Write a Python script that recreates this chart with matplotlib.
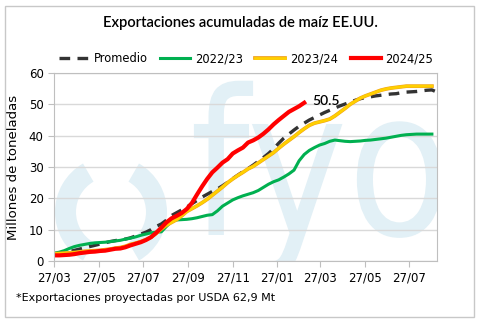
import datetime as dt
import matplotlib
matplotlib.use("Agg")
import matplotlib.pyplot as plt
import matplotlib.dates as mdates
import matplotlib.patheffects as pe
from matplotlib.patches import PathPatch, Wedge, Rectangle
from matplotlib.textpath import TextPath
from matplotlib.font_manager import FontProperties
from matplotlib.transforms import Affine2D

# exportaciones acumuladas semanales (millones de toneladas), desde el 27/03
promedio = [2.0, 2.3, 2.6, 3.0, 3.4, 3.8, 4.2, 4.6, 5.0, 5.4, 5.8, 6.2, 6.5, 6.8, 7.0,
            7.4, 8.0, 8.6, 9.2, 10.0, 11.0, 11.8, 13.0, 14.5, 15.4, 16.3, 17.2, 18.3,
            19.3, 20.4, 21.3, 22.2, 23.0, 24.0, 25.1, 26.3, 27.4, 28.5, 29.5, 30.6,
            31.8, 33.0, 34.3, 35.8, 37.6, 39.2, 40.5, 41.8, 43.0, 44.0, 45.0, 45.8,
            46.6, 47.4, 48.1, 48.8, 49.5, 50.1, 50.7, 51.3, 51.8, 52.2, 52.4, 52.7,
            52.9, 53.1, 53.3, 53.4, 53.7, 53.9, 54.0, 54.1, 54.3, 54.5, 54.6, 53.9]
c2022 = [2.5, 2.8, 3.3, 4.0, 4.6, 5.0, 5.3, 5.6, 5.8, 5.9, 6.0, 6.2, 6.4, 6.6, 7.0,
         7.3, 7.7, 8.2, 8.6, 9.0, 9.2, 9.3, 11.0, 12.6, 13.1, 13.2, 13.3, 13.5, 13.8,
         14.2, 14.6, 14.8, 16.0, 17.5, 18.5, 19.5, 20.2, 20.8, 21.3, 21.8, 22.5, 23.5,
         24.5, 25.3, 25.9, 26.8, 27.8, 29.0, 32.0, 34.0, 35.3, 36.2, 37.0, 37.5, 38.2,
         38.6, 38.4, 38.2, 38.1, 38.2, 38.3, 38.5, 38.6, 38.8, 39.0, 39.2, 39.5, 39.8,
         40.1, 40.3, 40.4, 40.5, 40.5, 40.5, 40.5]
c2023 = [2.3, 2.4, 2.5, 2.6, 2.7, 2.9, 3.1, 3.2, 3.3, 3.4, 3.6, 3.8, 4.1, 4.3, 4.7,
         5.3, 5.7, 6.2, 6.8, 7.6, 8.8, 10.2, 11.4, 12.3, 13.2, 14.4, 15.8, 16.7, 17.6,
         18.6, 19.7, 21.0, 22.3, 23.6, 25.0, 26.2, 27.3, 28.3, 29.4, 30.2, 31.3, 32.4,
         33.5, 34.6, 36.0, 37.3, 38.5, 39.7, 41.0, 42.2, 43.3, 44.0, 44.4, 44.8, 45.3,
         46.3, 47.5, 48.7, 50.0, 51.0, 52.0, 52.7, 53.3, 53.9, 54.5, 54.9, 55.2, 55.4,
         55.6, 55.8, 55.8, 55.8, 55.8, 55.8, 55.8]
c2024 = [1.8, 1.8, 1.9, 2.0, 2.2, 2.5, 2.7, 2.9, 3.0, 3.2, 3.3, 3.6, 3.9, 4.0, 4.4,
         5.0, 5.5, 6.0, 6.7, 7.6, 9.0, 10.6, 12.3, 13.6, 14.4, 15.3, 16.6, 18.5, 21.2,
         23.8, 26.2, 28.3, 29.8, 31.4, 32.5, 34.3, 35.3, 36.2, 37.8, 38.5, 39.4, 40.6,
         42.0, 43.6, 45.0, 46.3, 47.6, 48.5, 49.4, 50.5]

inicio = dt.datetime(2022, 3, 27)
def fechas(serie):
    return [inicio + dt.timedelta(days=7 * i) for i in range(len(serie))]

fig = plt.figure(figsize=(4.81, 3.23), dpi=100)
px = Affine2D().scale(1 / 100) + fig.dpi_scale_trans  # coordenadas en pixeles
fig.patches.append(Rectangle((5, 6), 469, 311, transform=px, fill=False,
                             ec="#c8c8c8", lw=1))
ax = fig.add_axes([54 / 481, 62 / 323, 383 / 481, 188 / 323])

# marca de agua dentro del area del grafico
agua = "#e2f0f6"
tp = TextPath((0, 0), "fyo", size=1, prop=FontProperties(family="DejaVu Sans"))
logo = PathPatch(tp, fc=agua, ec="none", zorder=0.1,
                 transform=Affine2D().scale(170, 203).translate(190, 88) + px)
ax.add_artist(logo)
for t1, t2 in [(120, 240), (-60, 60)]:
    ax.add_artist(Wedge((111, 111), 56, t1, t2, width=21, fc=agua, ec="none",
                        transform=px, zorder=0.1))

ax.plot(fechas(promedio), promedio, color="#333333", lw=2.4, ls=(0, (3.2, 2.2)),
        label="Promedio")
ax.plot(fechas(c2022), c2022, color="#00b050", lw=2.2, label="2022/23")
ax.plot(fechas(c2023), c2023, color="#ffd000", lw=2.0, label="2023/24",
        path_effects=[pe.Stroke(linewidth=2.7, foreground="#f0a020"), pe.Normal()])
ax.plot(fechas(c2024), c2024, color="#ff0000", lw=3.0, label="2024/25")

ax.annotate(f"{c2024[-1]:.1f}", (fechas(c2024)[-1], c2024[-1]),
            xytext=(6, 1), textcoords="offset points", va="center", ha="left",
            fontsize=10, family="Lato", weight="semibold")

ax.set_xlim(inicio, inicio + dt.timedelta(days=525))
ax.set_ylim(0, 60)
ax.set_yticks(range(0, 61, 10))
ax.xaxis.set_major_locator(mdates.MonthLocator(bymonth=[1, 3, 5, 7, 9, 11], bymonthday=27))
ax.xaxis.set_major_formatter(mdates.DateFormatter("%d/%m"))
ax.grid(axis="y", color="#d9d9d9", lw=1, zorder=0.5)
ax.set_axisbelow(True)
for s in ax.spines.values():
    s.set_color("#bfbfbf")
ax.tick_params(colors="#bfbfbf", labelcolor="black", labelsize=8.5, length=4)
ax.set_ylabel("Millones de toneladas", fontsize=9.5, labelpad=6)

fig.text(240 / 481, 1 - 23 / 323, "Exportaciones acumuladas de maíz EE.UU.", ha="center",
         va="center", fontsize=10.6, family="Lato", weight="semibold")
fig.legend(loc="center", bbox_to_anchor=(246 / 481, 1 - 59 / 323), ncol=4, frameon=False,
           fontsize=8.3, handlelength=2.6, handletextpad=0.4, columnspacing=1.1)
fig.text(16 / 481, 1 - 298 / 323, "*Exportaciones proyectadas por USDA 62,9 Mt",
         fontsize=8, va="center")

fig.savefig("out.png", dpi=100)
